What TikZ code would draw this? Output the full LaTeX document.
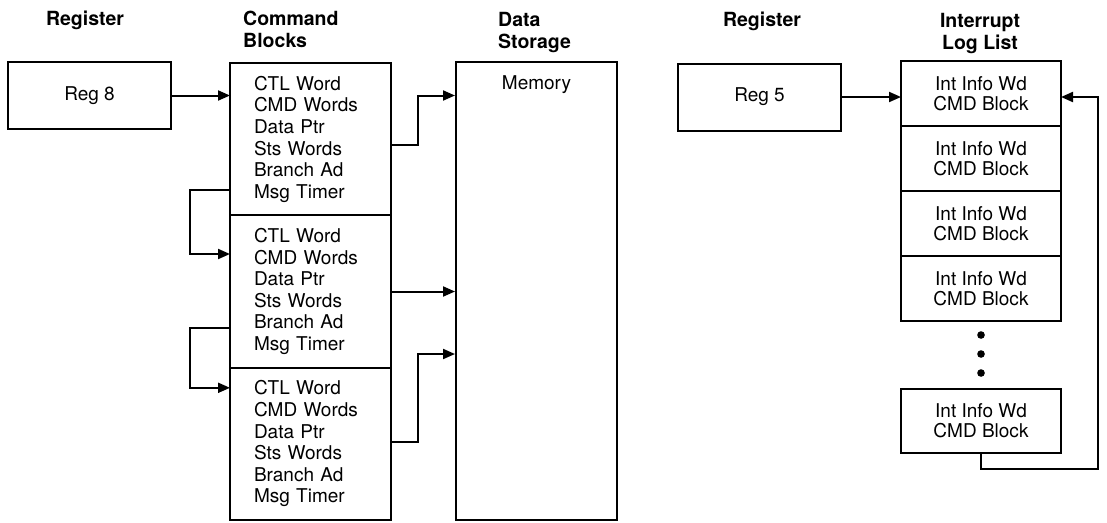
\documentclass[tikz,border=0pt]{standalone}
\usepackage{fontspec}
\setmainfont{TeX Gyre Heros}
\usetikzlibrary{arrows.meta,positioning}
\tikzset{
  regbox/.style  = {draw, line width=2pt, minimum width=163pt, minimum height=67pt,
                    font=\fontsize{19}{22}\selectfont},
  cmdbox/.style  = {draw, line width=2pt, outer sep=0pt, minimum width=161pt,
                    minimum height=152.3pt, inner xsep=24pt, text width=113pt, align=left,
                    font=\fontsize{19}{21.6}\selectfont},
  logbox/.style  = {draw, line width=2pt, outer sep=0pt, minimum width=160pt,
                    minimum height=65pt, align=center, font=\fontsize{19}{20}\selectfont},
  membox/.style  = {draw, line width=2pt, minimum width=161pt, minimum height=458pt},
  head/.style    = {font=\fontsize{19.5}{22}\selectfont\bfseries, inner sep=0pt},
  link/.style    = {line width=2pt, -{Triangle[length=12pt,width=10pt]}},
}

\newcommand{\cmdlist}{CTL Word\\CMD Words\\Data Ptr\\Sts Words\\Branch Ad\\Msg Timer}
\newcommand{\loginfo}{Int Info Wd\\CMD Block}

\begin{document}
\begin{tikzpicture}[x=1pt,y=-1pt]
  \useasboundingbox (0,0) rectangle (1107,522);
  % headings
  \node[head,anchor=north] (hreg8) at (85,11) {Register};
  \node[head,anchor=north west,align=left] (hcmd) at (243,11) {Command\\Blocks};
  \node[head,anchor=north west,align=left] (hdata) at (498,12) {Data\\Storage};
  \node[head,anchor=north] (hreg5) at (762,12) {Register};
  \node[head,anchor=north,align=center] (hlog) at (980,13) {Interrupt\\Log List};
  % left half
  \node[regbox] (r8) at (89.5,95.5) {Reg 8};
  \node[cmdbox] (cb1) at (310.5,139.2) {\cmdlist};
  \node[cmdbox,below=0pt of cb1] (cb2) {\cmdlist};
  \node[cmdbox,below=0pt of cb2] (cb3) {\cmdlist};
  \node[membox] (mem) at (536.5,291) {};
  \node[font=\fontsize{19}{22}\selectfont,below=11pt of mem.north] (memtxt) {Memory};
  \draw[link] (r8) -- (r8 -| cb1.west);
  \draw[link] ([yshift=-6pt]cb1.east) -- ++(27,0) |- (r8 -| mem.west);
  \draw[link] (cb2.east) -- (cb2.east -| mem.west);
  \draw[link] ([yshift=2pt]cb3.east) -- ++(27,0) |- ([yshift=-63pt]mem.west);
  \draw[link] ([yshift=-51pt]cb1.west) -- ++(-40,0) |- ([yshift=37.5pt]cb2.west);
  \draw[link] ([yshift=-36.5pt]cb2.west) -- ++(-40,0) |- ([yshift=56pt]cb3.west);
  % right half
  \node[regbox] (r5) at (759.5,97) {Reg 5};
  \node[logbox] (il1) at (981,93.5) {\loginfo};
  \node[logbox,below=0pt of il1] (il2) {\loginfo};
  \node[logbox,below=0pt of il2] (il3) {\loginfo};
  \node[logbox,below=0pt of il3] (il4) {\loginfo};
  \node[logbox,below=68pt of il4,minimum height=64pt] (il5) {\loginfo};
  \foreach \y in {335,354,373}
    \fill (981,\y) circle (3.8pt);
  \draw[link] (r5) -- (r5 -| il1.west);
  \draw[link] (il5.south) |- ++(117,16) |- (r5 -| il1.east);
\end{tikzpicture}
\end{document}
